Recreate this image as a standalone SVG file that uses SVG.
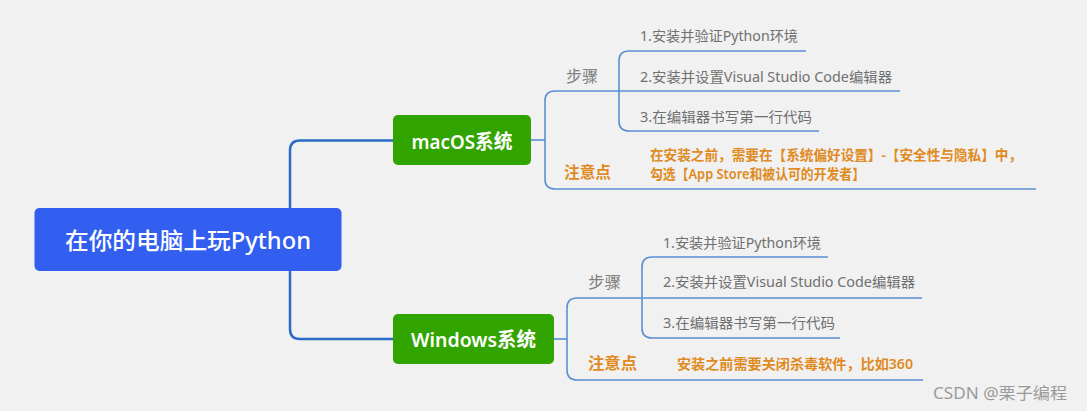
<svg xmlns="http://www.w3.org/2000/svg" width="1087" height="411" viewBox="0 0 1087 411">
<style>
.trunk{fill:none;stroke:#2a6bc6;stroke-width:2.5}
.br{fill:none;stroke:#5b8fd4;stroke-width:1.6}
.root{fill:#335ff1}
.os{fill:#31a400}
.wt{fill:#ffffff;font-family:"Noto Sans","Noto Sans CJK SC",sans-serif}
.lab{fill:#808080;font-family:"Noto Sans","Noto Sans CJK SC",sans-serif;font-size:16px}
.item{fill:#707070;font-family:"Noto Sans","Noto Sans CJK SC",sans-serif;font-size:14px}
.warn{fill:#e08a22;font-family:"Noto Sans","Noto Sans CJK SC",sans-serif;font-weight:600}
</style>
<rect width="1087" height="411" fill="#f1f1f1"/>
<g id="connectors">
<path class="trunk" d="M393,140.5 H300 Q290,140.5 290,150.5 V329 Q290,339 300,339 H393"/>
<path class="br" d="M531,140 H545"/>
<path class="br" d="M619,91 H555 Q545,91 545,101 V179 Q545,189 555,189 H1036"/>
<path class="br" d="M806,51 H629 Q619,51 619,61 V121 Q619,131 629,131 H819"/>
<path class="br" d="M619,91 H900"/>
<path class="br" d="M554,339 H567"/>
<path class="br" d="M642,298 H577 Q567,298 567,308 V370 Q567,380 577,380 H923"/>
<path class="br" d="M828,257 H652 Q642,257 642,267 V328 Q642,338 652,338 H840"/>
<path class="br" d="M642,298 H922"/>
</g>
<g id="root">
<rect class="root" x="34.5" y="208" width="307" height="63" rx="5"/>
<text class="wt" x="188" y="249" font-size="23" font-weight="500" text-anchor="middle" textLength="246" lengthAdjust="spacingAndGlyphs">在你的电脑上玩Python</text>
</g>
<g id="macos">
<rect class="os" x="393" y="115" width="138" height="50" rx="5"/>
<text class="wt" x="462" y="149" font-size="20" font-weight="600" text-anchor="middle" textLength="101" lengthAdjust="spacingAndGlyphs">macOS系统</text>
</g>
<g id="mac-steps">
<text class="lab" x="566" y="82" textLength="32" lengthAdjust="spacingAndGlyphs">步骤</text>
</g>
<g id="mac-step1"><text class="item" x="640" y="41" textLength="158" lengthAdjust="spacingAndGlyphs">1.安装并验证Python环境</text></g>
<g id="mac-step2"><text class="item" x="640" y="82" textLength="252" lengthAdjust="spacingAndGlyphs">2.安装并设置Visual Studio Code编辑器</text></g>
<g id="mac-step3"><text class="item" x="640" y="122" textLength="172" lengthAdjust="spacingAndGlyphs">3.在编辑器书写第一行代码</text></g>
<g id="mac-note">
<text class="warn" x="564" y="178" font-size="16" textLength="47" lengthAdjust="spacingAndGlyphs">注意点</text>
</g>
<g id="mac-note-text">
<text class="warn" x="650" y="160" font-size="14" textLength="372" lengthAdjust="spacingAndGlyphs">在安装之前，需要在【系统偏好设置】-【安全性与隐私】中，</text>
<text class="warn" x="650" y="179" font-size="14" textLength="215" lengthAdjust="spacingAndGlyphs">勾选【App Store和被认可的开发者】</text>
</g>
<g id="windows">
<rect class="os" x="393" y="314" width="161" height="50" rx="5"/>
<text class="wt" x="473.5" y="347" font-size="20" font-weight="600" text-anchor="middle" textLength="125" lengthAdjust="spacingAndGlyphs">Windows系统</text>
</g>
<g id="win-steps">
<text class="lab" x="588" y="288" textLength="33" lengthAdjust="spacingAndGlyphs">步骤</text>
</g>
<g id="win-step1"><text class="item" x="663" y="248" textLength="158" lengthAdjust="spacingAndGlyphs">1.安装并验证Python环境</text></g>
<g id="win-step2"><text class="item" x="663" y="287" textLength="252" lengthAdjust="spacingAndGlyphs">2.安装并设置Visual Studio Code编辑器</text></g>
<g id="win-step3"><text class="item" x="663" y="328" textLength="172" lengthAdjust="spacingAndGlyphs">3.在编辑器书写第一行代码</text></g>
<g id="win-note">
<text class="warn" x="588" y="369" font-size="16" textLength="49" lengthAdjust="spacingAndGlyphs">注意点</text>
</g>
<g id="win-note-text">
<text class="warn" x="677" y="369" font-size="14" textLength="236" lengthAdjust="spacingAndGlyphs">安装之前需要关闭杀毒软件，比如360</text>
</g>
<text x="933" y="399" fill="#9a9a9a" font-family="'Noto Sans','Noto Sans CJK SC',sans-serif" font-size="16" textLength="134" lengthAdjust="spacingAndGlyphs">CSDN @栗子编程</text>
</svg>
